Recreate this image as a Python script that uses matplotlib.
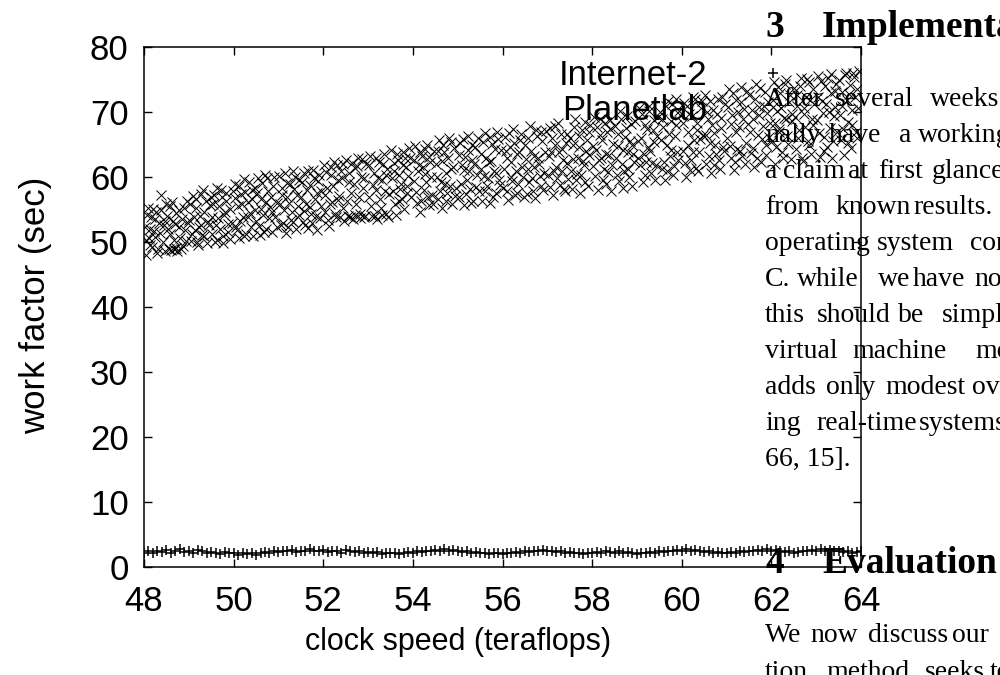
import numpy as np
import matplotlib
matplotlib.use('Agg')
import matplotlib.pyplot as plt

# Planetlab samples in half-unit strips of clock speed
pl_x = [
    48.02, 48.05, 48.08, 48.11, 48.15, 48.18, 48.22, 48.26, 48.30, 48.34, 48.38, 48.42, 48.46, 48.49,
    48.52, 48.55, 48.59, 48.63, 48.66, 48.70, 48.73, 48.77, 48.81, 48.85, 48.88, 48.92, 48.96,
    49.01, 49.05, 49.09, 49.13, 49.16, 49.20, 49.24, 49.28, 49.32, 49.35, 49.39, 49.43, 49.47,
    49.51, 49.54, 49.58, 49.62, 49.66, 49.69, 49.73, 49.77, 49.81, 49.84, 49.88, 49.92, 49.96,
    50.02, 50.06, 50.09, 50.13, 50.17, 50.21, 50.24, 50.28, 50.32, 50.36, 50.40, 50.43, 50.47,
    50.51, 50.55, 50.58, 50.62, 50.66, 50.70, 50.73, 50.77, 50.81, 50.85, 50.88, 50.92, 50.96,
    51.02, 51.05, 51.09, 51.13, 51.17, 51.20, 51.24, 51.28, 51.32, 51.35, 51.39, 51.43, 51.47,
    51.51, 51.55, 51.58, 51.62, 51.66, 51.70, 51.73, 51.77, 51.81, 51.85, 51.88, 51.92, 51.96,
    52.02, 52.05, 52.09, 52.13, 52.17, 52.20, 52.24, 52.28, 52.32, 52.35, 52.39, 52.43, 52.47,
    52.51, 52.55, 52.58, 52.62, 52.66, 52.70, 52.73, 52.77, 52.81, 52.85, 52.88, 52.92, 52.96,
    53.02, 53.05, 53.09, 53.13, 53.17, 53.20, 53.24, 53.28, 53.32, 53.35, 53.39, 53.43, 53.47,
    53.51, 53.55, 53.58, 53.62, 53.66, 53.70, 53.73, 53.77, 53.81, 53.85, 53.88, 53.92, 53.96,
    54.02, 54.05, 54.09, 54.13, 54.17, 54.20, 54.24, 54.28, 54.32, 54.35, 54.39, 54.43, 54.47,
    54.51, 54.55, 54.58, 54.62, 54.66, 54.70, 54.73, 54.77, 54.81, 54.85, 54.88, 54.92, 54.96,
    55.02, 55.05, 55.09, 55.13, 55.17, 55.20, 55.24, 55.28, 55.32, 55.35, 55.39, 55.43, 55.47,
    55.51, 55.55, 55.58, 55.62, 55.66, 55.70, 55.73, 55.77, 55.81, 55.85, 55.88, 55.92, 55.96,
    56.02, 56.05, 56.09, 56.13, 56.17, 56.20, 56.24, 56.28, 56.32, 56.35, 56.39, 56.43, 56.47,
    56.51, 56.55, 56.58, 56.62, 56.66, 56.70, 56.73, 56.77, 56.81, 56.85, 56.88, 56.92, 56.96,
    57.02, 57.05, 57.09, 57.13, 57.17, 57.20, 57.24, 57.28, 57.32, 57.35, 57.39, 57.43, 57.47,
    57.51, 57.55, 57.58, 57.62, 57.66, 57.70, 57.73, 57.77, 57.81, 57.85, 57.88, 57.92, 57.96,
    58.02, 58.05, 58.09, 58.13, 58.17, 58.20, 58.24, 58.28, 58.32, 58.35, 58.39, 58.43, 58.47,
    58.51, 58.55, 58.58, 58.62, 58.66, 58.70, 58.73, 58.77, 58.81, 58.85, 58.88, 58.92, 58.96,
    59.02, 59.05, 59.09, 59.13, 59.17, 59.20, 59.24, 59.28, 59.32, 59.35, 59.39, 59.43, 59.47,
    59.51, 59.55, 59.58, 59.62, 59.66, 59.70, 59.73, 59.77, 59.81, 59.85, 59.88, 59.92, 59.96,
    60.02, 60.05, 60.09, 60.13, 60.17, 60.20, 60.24, 60.28, 60.32, 60.35, 60.39, 60.43, 60.47,
    60.51, 60.55, 60.58, 60.62, 60.66, 60.70, 60.73, 60.77, 60.81, 60.85, 60.88, 60.92, 60.96,
    61.02, 61.05, 61.09, 61.13, 61.17, 61.20, 61.24, 61.28, 61.32, 61.35, 61.39, 61.43, 61.47,
    61.51, 61.55, 61.58, 61.62, 61.66, 61.70, 61.73, 61.77, 61.81, 61.85, 61.88, 61.92, 61.96,
    62.02, 62.05, 62.09, 62.13, 62.17, 62.20, 62.24, 62.28, 62.32, 62.35, 62.39, 62.43, 62.47,
    62.51, 62.55, 62.58, 62.62, 62.66, 62.70, 62.73, 62.77, 62.81, 62.85, 62.88, 62.92, 62.96,
    63.02, 63.05, 63.09, 63.13, 63.17, 63.20, 63.24, 63.28, 63.32, 63.35, 63.39, 63.43, 63.47,
    63.51, 63.55, 63.58, 63.62, 63.66, 63.70, 63.73, 63.77, 63.81, 63.85, 63.88, 63.92, 63.96,
    # second pass over the same strips
    48.04, 48.07, 48.13, 48.14, 48.20, 48.24, 48.25, 48.31, 48.36, 48.37, 48.44, 48.47,
    48.53, 48.58, 48.61, 48.64, 48.68, 48.71, 48.72, 48.79, 48.83, 48.90, 48.93, 48.98,
    49.03, 49.06, 49.11, 49.15, 49.18, 49.22, 49.27, 49.30, 49.33, 49.41, 49.44, 49.49,
    49.52, 49.57, 49.60, 49.64, 49.67, 49.71, 49.76, 49.79, 49.83, 49.87, 49.93, 49.98,
    50.03, 50.08, 50.11, 50.15, 50.19, 50.23, 50.26, 50.31, 50.34, 50.38, 50.42, 50.48,
    50.53, 50.56, 50.60, 50.64, 50.68, 50.72, 50.75, 50.79, 50.83, 50.86, 50.90, 50.97,
    51.03, 51.07, 51.11, 51.14, 51.19, 51.22, 51.26, 51.30, 51.33, 51.37, 51.41, 51.46,
    51.52, 51.56, 51.60, 51.63, 51.67, 51.71, 51.75, 51.79, 51.83, 51.86, 51.90, 51.94,
    52.03, 52.07, 52.11, 52.15, 52.18, 52.22, 52.26, 52.30, 52.33, 52.37, 52.41, 52.45,
    52.53, 52.57, 52.60, 52.64, 52.68, 52.71, 52.75, 52.79, 52.83, 52.86, 52.90, 52.94,
    53.03, 53.07, 53.11, 53.15, 53.18, 53.22, 53.26, 53.30, 53.33, 53.37, 53.41, 53.45,
    53.53, 53.57, 53.60, 53.64, 53.68, 53.71, 53.75, 53.79, 53.83, 53.86, 53.90, 53.94,
    54.03, 54.07, 54.11, 54.15, 54.18, 54.22, 54.26, 54.30, 54.33, 54.37, 54.41, 54.45,
    54.53, 54.57, 54.60, 54.64, 54.68, 54.71, 54.75, 54.79, 54.83, 54.86, 54.90, 54.94,
    55.03, 55.07, 55.11, 55.15, 55.18, 55.22, 55.26, 55.30, 55.33, 55.37, 55.41, 55.45,
    55.53, 55.57, 55.60, 55.64, 55.68, 55.71, 55.75, 55.79, 55.83, 55.86, 55.90, 55.94,
    56.03, 56.07, 56.11, 56.15, 56.18, 56.22, 56.26, 56.30, 56.33, 56.37, 56.41, 56.45,
    56.53, 56.57, 56.60, 56.64, 56.68, 56.71, 56.75, 56.79, 56.83, 56.86, 56.90, 56.94,
    57.03, 57.07, 57.11, 57.15, 57.18, 57.22, 57.26, 57.30, 57.33, 57.37, 57.41, 57.45,
    57.53, 57.57, 57.60, 57.64, 57.68, 57.71, 57.75, 57.79, 57.83, 57.86, 57.90, 57.94,
    58.03, 58.07, 58.11, 58.15, 58.18, 58.22, 58.26, 58.30, 58.33, 58.37, 58.41, 58.45,
    58.53, 58.57, 58.60, 58.64, 58.68, 58.71, 58.75, 58.79, 58.83, 58.87, 58.90, 58.94,
    59.03, 59.07, 59.11, 59.15, 59.18, 59.22, 59.26, 59.30, 59.33, 59.37, 59.41, 59.45,
    59.53, 59.57, 59.60, 59.64, 59.68, 59.71, 59.75, 59.79, 59.83, 59.87, 59.90, 59.94,
    60.03, 60.07, 60.11, 60.15, 60.18, 60.22, 60.26, 60.30, 60.33, 60.37, 60.41, 60.45,
    60.53, 60.57, 60.60, 60.64, 60.68, 60.71, 60.75, 60.79, 60.83, 60.87, 60.90, 60.94,
    61.03, 61.07, 61.11, 61.15, 61.18, 61.22, 61.26, 61.30, 61.33, 61.37, 61.41, 61.45,
    61.53, 61.57, 61.60, 61.64, 61.68, 61.72, 61.75, 61.79, 61.83, 61.87, 61.90, 61.94,
    62.03, 62.07, 62.11, 62.15, 62.18, 62.22, 62.26, 62.30, 62.33, 62.37, 62.41, 62.45,
    62.53, 62.57, 62.60, 62.64, 62.68, 62.72, 62.75, 62.79, 62.83, 62.87, 62.90, 62.94,
    63.03, 63.07, 63.11, 63.15, 63.18, 63.22, 63.26, 63.30, 63.33, 63.37, 63.41, 63.45,
    63.53, 63.57, 63.60, 63.64, 63.68, 63.72, 63.75, 63.79, 63.83, 63.87, 63.90, 63.94,
]
pl_y = [
    52.4, 48.1, 55.3, 50.6, 53.8, 49.2, 51.7, 54.6, 48.4, 52.9, 57.3, 50.1, 53.2, 55.8,
    54.1, 48.9, 51.3, 56.2, 49.0, 52.8, 48.6, 55.0, 50.7, 53.6, 49.4, 51.9, 56.4,
    53.4, 50.2, 57.1, 51.8, 55.2, 49.6, 54.0, 52.6, 58.0, 50.9, 56.3, 53.1, 55.7,
    51.2, 55.8, 50.1, 58.3, 53.7, 52.0, 56.9, 49.9, 54.6, 57.6, 51.5, 55.1, 53.0,
    58.9, 52.4, 55.6, 50.6, 57.4, 53.9, 59.7, 51.3, 56.2, 54.5, 58.1, 50.9, 55.0,
    53.3, 59.8, 51.1, 56.7, 54.2, 60.3, 52.0, 57.9, 55.4, 51.6, 58.6, 53.8, 56.1,
    60.2, 52.7, 57.3, 54.9, 51.4, 59.1, 56.0, 53.4, 61.0, 58.2, 52.1, 55.5, 59.6,
    57.0, 53.1, 60.6, 55.9, 52.2, 58.8, 54.3, 61.1, 56.6, 51.9, 59.4, 53.7, 57.8,
    61.8, 54.6, 58.3, 52.5, 60.4, 56.2, 62.3, 53.9, 59.5, 57.1, 61.0, 55.3, 53.2,
    62.6, 54.0, 59.2, 57.5, 53.6, 61.4, 55.8, 63.0, 54.4, 60.1, 58.4, 53.9, 62.0,
    56.9, 63.2, 54.1, 60.7, 58.0, 53.5, 62.4, 55.2, 59.6, 63.6, 54.3, 61.3, 57.4,
    64.2, 57.8, 60.9, 54.2, 62.7, 56.3, 59.0, 63.9, 55.1, 61.5, 58.6, 64.5, 57.0,
    59.4, 64.8, 56.0, 61.9, 54.6, 63.3, 58.1, 60.5, 65.0, 55.7, 62.4, 57.2, 64.0,
    62.1, 56.6, 65.7, 59.3, 55.2, 63.8, 60.6, 57.5, 66.0, 61.2, 55.9, 64.5, 58.4,
    57.0, 65.3, 61.8, 55.7, 63.1, 59.6, 66.4, 58.2, 62.7, 56.3, 64.6, 60.4, 57.9,
    63.6, 56.4, 60.2, 66.8, 58.7, 62.3, 56.1, 65.1, 61.0, 57.6, 67.0, 59.5, 64.2,
    58.3, 66.2, 62.9, 56.5, 64.7, 60.1, 67.4, 57.2, 63.5, 59.0, 65.8, 61.6, 56.9,
    64.9, 57.4, 61.2, 67.9, 59.8, 63.3, 56.8, 66.4, 62.0, 58.6, 65.5, 60.7, 67.1,
    60.3, 67.6, 63.9, 57.3, 65.0, 61.5, 68.4, 58.8, 64.4, 62.6, 57.9, 66.7, 59.7,
    66.0, 58.2, 62.8, 68.9, 60.5, 64.6, 57.5, 67.3, 61.9, 59.3, 65.7, 63.4, 68.1,
    61.7, 69.2, 64.2, 58.0, 66.5, 62.9, 59.6, 68.3, 63.6, 60.8, 67.4, 57.8, 65.1,
    67.9, 60.4, 64.8, 70.2, 62.1, 58.3, 66.2, 69.4, 61.3, 65.6, 58.6, 63.5, 68.7,
    63.0, 70.6, 66.1, 59.2, 68.0, 62.4, 64.7, 71.0, 60.6, 67.2, 65.4, 61.8, 69.3,
    70.1, 61.2, 67.7, 59.5, 64.9, 71.8, 63.3, 68.6, 60.4, 66.3, 72.0, 62.7, 69.5,
    64.1, 71.4, 60.0, 67.0, 69.8, 62.6, 72.4, 65.7, 61.4, 68.4, 63.8, 70.7, 66.5,
    72.7, 62.0, 68.9, 65.2, 60.6, 70.4, 66.8, 63.5, 72.1, 61.3, 69.1, 64.6, 71.2,
    66.0, 73.5, 62.9, 69.6, 61.1, 71.9, 64.4, 67.8, 73.9, 63.2, 70.5, 65.3, 68.2,
    72.6, 63.7, 69.0, 61.5, 74.3, 66.5, 70.8, 62.4, 67.9, 73.1, 64.9, 71.6, 68.3,
    65.6, 74.7, 62.1, 70.2, 67.4, 72.9, 63.9, 69.1, 75.0, 66.3, 71.5, 62.8, 68.6,
    73.8, 64.3, 70.9, 67.2, 75.3, 62.5, 69.7, 72.4, 65.5, 74.6, 63.6, 68.1, 71.3,
    68.8, 75.6, 63.1, 71.7, 66.2, 74.0, 64.7, 70.1, 75.9, 62.9, 69.4, 73.2, 67.0,
    74.9, 65.8, 71.0, 63.4, 76.1, 68.5, 72.8, 64.5, 70.3, 75.4, 66.9, 73.6, 76.4,
    # second pass
    50.3, 54.2, 49.5, 52.0, 55.1, 50.8, 53.5, 49.0, 51.4, 54.9, 52.6, 48.7,
    52.1, 55.6, 48.8, 53.3, 50.4, 49.1, 54.5, 52.4, 48.9, 55.3, 50.2, 53.0,
    55.9, 51.2, 53.8, 56.6, 50.0, 52.3, 57.4, 51.1, 54.7, 49.8, 52.7, 57.0,
    53.9, 57.2, 52.6, 50.4, 55.5, 58.1, 51.0, 54.2, 56.3, 52.8, 50.5, 57.9,
    56.8, 51.9, 58.6, 53.2, 55.9, 51.0, 57.7, 53.8, 59.2, 52.3, 56.7, 58.4,
    57.6, 52.5, 55.1, 59.1, 51.5, 56.2, 59.9, 53.7, 57.0, 54.6, 60.1, 52.3,
    55.8, 58.4, 53.0, 60.6, 56.9, 52.4, 58.9, 54.6, 53.1, 60.0, 57.3, 54.2,
    59.3, 54.8, 52.6, 58.1, 60.9, 55.4, 53.0, 59.9, 54.1, 57.5, 60.3, 55.6,
    57.2, 60.8, 53.4, 55.9, 61.6, 58.7, 54.3, 61.9, 56.5, 53.8, 59.9, 62.1,
    56.3, 60.7, 53.8, 62.2, 58.9, 54.2, 61.7, 56.9, 53.7, 62.8, 59.8, 54.0,
    61.9, 55.6, 58.8, 54.0, 63.0, 59.9, 56.6, 54.2, 62.1, 57.8, 60.4, 53.9,
    59.8, 62.2, 55.9, 63.5, 60.4, 58.2, 56.7, 61.8, 63.0, 57.5, 60.2, 62.9,
    62.6, 57.7, 60.9, 63.9, 56.4, 61.5, 64.4, 59.2, 57.0, 63.1, 60.0, 55.8,
    60.0, 64.1, 57.8, 62.5, 65.0, 59.0, 56.3, 63.0, 58.7, 65.4, 61.6, 57.1,
    63.4, 59.0, 65.9, 61.1, 57.4, 64.2, 60.9, 56.0, 65.0, 62.0, 58.5, 66.0,
    61.3, 65.4, 57.9, 63.0, 59.9, 66.2, 62.5, 57.0, 64.4, 60.7, 65.9, 58.8,
    61.2, 64.0, 57.9, 66.8, 62.4, 59.4, 65.2, 61.0, 57.5, 63.9, 66.6, 60.0,
    62.8, 66.0, 59.2, 64.1, 57.8, 61.6, 67.3, 63.0, 60.2, 66.9, 58.0, 63.9,
    63.2, 58.5, 66.1, 61.0, 67.9, 59.8, 63.8, 66.6, 60.9, 58.2, 65.3, 62.2,
    61.0, 64.9, 67.8, 59.5, 63.0, 66.4, 60.3, 62.5, 68.5, 64.1, 58.6, 66.9,
    64.8, 60.2, 67.7, 62.6, 69.0, 65.8, 61.3, 59.0, 66.9, 63.4, 68.8, 61.9,
    62.9, 66.7, 59.4, 69.0, 64.2, 61.0, 67.5, 63.9, 60.0, 68.2, 65.0, 62.3,
    65.6, 61.9, 69.7, 63.6, 60.3, 67.4, 70.2, 64.0, 62.2, 68.8, 59.6, 66.4,
    65.8, 68.9, 62.3, 70.9, 60.9, 66.6, 64.2, 71.3, 61.7, 68.0, 63.8, 70.2,
    68.3, 62.2, 71.0, 65.0, 61.1, 69.4, 63.9, 72.0, 67.3, 60.9, 65.9, 71.8,
    66.5, 70.1, 63.2, 71.8, 68.0, 61.9, 65.0, 69.7, 62.7, 67.5, 72.4, 64.0,
    70.8, 64.8, 68.2, 72.9, 62.4, 66.9, 70.0, 64.1, 71.6, 68.9, 62.0, 73.2,
    67.0, 70.3, 64.5, 72.0, 62.9, 69.5, 73.8, 65.9, 71.0, 63.4, 69.9, 66.2,
    71.9, 68.4, 64.6, 73.9, 66.9, 70.7, 63.0, 74.4, 68.9, 65.1, 72.6, 69.8,
    69.2, 72.7, 66.0, 74.0, 63.0, 70.6, 67.8, 75.1, 64.9, 71.9, 69.0, 73.5,
    72.4, 66.8, 74.8, 69.9, 64.1, 71.2, 75.2, 67.6, 73.0, 65.6, 70.8, 74.3,
    69.6, 73.1, 67.4, 75.7, 71.9, 65.2, 74.2, 68.0, 76.0, 72.3, 66.0, 70.6,
]

# Internet-2: one sample every 0.1 teraflops from 48 to 64
i2_y = [
    2.2, 2.4, 2.1, 2.5, 2.3, 2.6, 2.2, 2.4, 2.7, 2.3, 2.5, 2.2, 2.6, 2.4, 2.1, 2.3, 2.2, 2.0, 2.3, 2.1,
    2.2, 1.9, 2.1, 2.0, 2.2, 1.9, 2.1, 2.3, 2.2, 2.4, 2.3, 2.5, 2.4, 2.6, 2.3, 2.5, 2.4, 2.7, 2.4, 2.5,
    2.6, 2.3, 2.5, 2.4, 2.2, 2.6, 2.4, 2.3, 2.5, 2.2, 2.3, 2.1, 2.3, 2.0, 2.2, 2.1, 2.2, 2.0, 2.1, 2.3,
    2.2, 2.4, 2.3, 2.5, 2.4, 2.6, 2.5, 2.7, 2.4, 2.6, 2.5, 2.3, 2.4, 2.2, 2.3, 2.1, 2.2, 2.0, 2.2, 2.1,
    2.0, 2.2, 2.1, 2.3, 2.2, 2.4, 2.3, 2.5, 2.4, 2.6, 2.4, 2.5, 2.3, 2.4, 2.2, 2.3, 2.1, 2.2, 2.0, 2.2,
    2.1, 2.3, 2.2, 2.4, 2.3, 2.2, 2.4, 2.1, 2.3, 2.2, 2.0, 2.2, 2.1, 2.3, 2.2, 2.4, 2.3, 2.5, 2.4, 2.6,
    2.5, 2.7, 2.4, 2.6, 2.5, 2.3, 2.4, 2.2, 2.3, 2.1, 2.2, 2.3, 2.2, 2.4, 2.3, 2.5, 2.4, 2.6, 2.5, 2.7,
    2.4, 2.6, 2.5, 2.3, 2.4, 2.2, 2.3, 2.5, 2.4, 2.6, 2.5, 2.7, 2.5, 2.6, 2.4, 2.5, 2.3, 2.4, 2.2, 2.3, 2.4,
]
i2_x = np.linspace(48, 64, len(i2_y))

x_ticks = [48, 50, 52, 54, 56, 58, 60, 62, 64]
y_ticks = [0, 10, 20, 30, 40, 50, 60, 70, 80]

# the page text the figure sits in, (baseline px, [(x px, word), ...])
page_lines = [
    (106, [(765, 'After'), (835, 'several'), (930, 'weeks')]),
    (142, [(765, 'nally'), (829, 'have'), (899, 'a'), (918, 'working')]),
    (178, [(765, 'a'), (783, 'claim'), (848, 'at'), (878, 'first'), (932, 'glance')]),
    (214, [(765, 'from'), (835, 'known'), (913, 'results.')]),
    (250, [(765, 'operating'), (877, 'system'), (970, 'con')]),
    (286, [(765, 'C.'), (797, 'while'), (878, 'we'), (913, 'have'), (974, 'not')]),
    (322, [(765, 'this'), (817, 'should'), (898, 'be'), (942, 'simple')]),
    (358, [(765, 'virtual'), (852, 'machine'), (975, 'mon')]),
    (394, [(765, 'adds'), (826, 'only'), (885, 'modest'), (972, 'over')]),
    (430, [(765, 'ing'), (816, 'real-time'), (919, 'systems')]),
    (466, [(765, '66, 15].')]),
    (642, [(765, 'We'), (810, 'now'), (868, 'discuss'), (952, 'our')]),
    (679, [(765, 'tion'), (826, 'method'), (925, 'seeks'), (990, 'to')]),
]
headings = [(37, '3', 'Implementation'), (573, '4', 'Evaluation')]

plt.rcParams['font.family'] = ['Liberation Sans', 'DejaVu Sans']

fig = plt.figure(figsize=(10, 6.75), dpi=100)
ax = fig.add_axes([0.144, 0.16, 0.717, 0.77])

ax.plot(i2_x, i2_y, linestyle='none', marker='+', markersize=7, markeredgewidth=1.1,
        color='black', label='Internet-2')
ax.plot(pl_x, pl_y, linestyle='none', marker='x', markersize=7.5, markeredgewidth=0.7,
        color='black', label='Planetlab')

ax.set_xlim(48, 64)
ax.set_ylim(0, 80)
ax.set_xticks(x_ticks)
ax.set_yticks(y_ticks)
ax.tick_params(axis='both', direction='in', length=6, width=1, labelsize=25,
               top=True, right=True)
ax.tick_params(axis='y', pad=11)
ax.tick_params(axis='x', pad=13)
for s in ax.spines.values():
    s.set_linewidth(1.1)

ax.set_xlabel('clock speed (teraflops)', fontsize=22)
ax.set_ylabel('work factor (sec)', fontsize=25)
ax.xaxis.set_label_coords(0.438, -0.115)
ax.yaxis.set_label_coords(-0.128, 0.504)

ax.legend(loc='upper right', bbox_to_anchor=(0.926, 0.977), markerfirst=False,
          frameon=False, fontsize=25, borderpad=0, borderaxespad=0,
          handlelength=2, handletextpad=0.9, labelspacing=0.04)

# overlapping paper text
for base, words in page_lines:
    for px, w in words:
        fig.text(px / 1000, 1 - base / 675, w, fontsize=20, family='Liberation Serif',
                 va='baseline', ha='left')
for base, num, title in headings:
    fig.text(765 / 1000, 1 - base / 675, num, fontsize=27, family='Liberation Serif',
             weight='bold', va='baseline')
    fig.text(822 / 1000, 1 - base / 675, title, fontsize=27, family='Liberation Serif',
             weight='bold', va='baseline')

plt.savefig('out.png', dpi=100)
